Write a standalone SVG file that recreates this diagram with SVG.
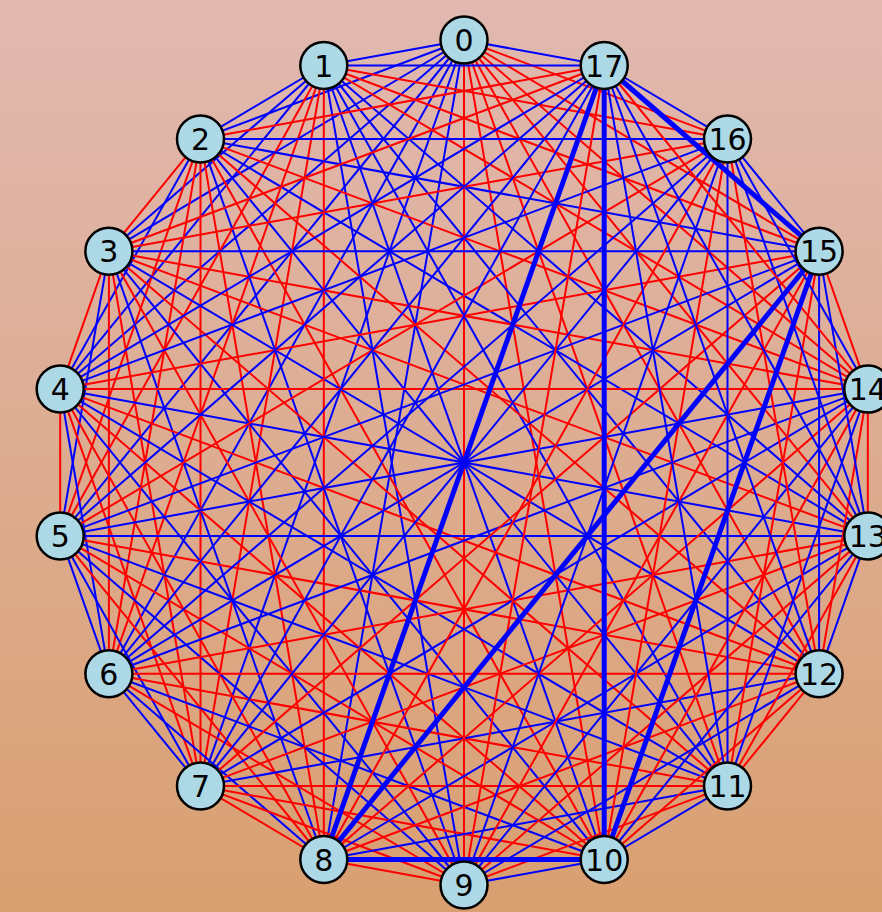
<svg xmlns="http://www.w3.org/2000/svg" width="882" height="912" viewBox="0 0 882 912">
<defs>
<linearGradient id="bg" x1="0" y1="0" x2="0" y2="1">
<stop offset="0" stop-color="#e1b9b1"/>
<stop offset="1" stop-color="#d99f70"/>
</linearGradient>
<style>
.b{stroke:#0000ff;stroke-width:2}
.r{stroke:#ff0000;stroke-width:2}
.t{stroke:#0000ff;stroke-width:5}
.n circle{fill:#add8e6;stroke:#000;stroke-width:2.5}
.n text{font-family:"DejaVu Sans",sans-serif;font-size:30px;text-anchor:middle;fill:#000}
</style>
</defs>
<rect width="882" height="912" fill="url(#bg)"/>
<g id="edges">
<line class="b" x1="464" y1="40" x2="323.8" y2="65.5"/>
<line class="b" x1="464" y1="40" x2="200.5" y2="138.9"/>
<line class="b" x1="464" y1="40" x2="108.9" y2="251.3"/>
<line class="b" x1="464" y1="40" x2="60.2" y2="389.1"/>
<line class="b" x1="464" y1="40" x2="60.2" y2="535.9"/>
<line class="b" x1="464" y1="40" x2="108.9" y2="673.8"/>
<line class="b" x1="464" y1="40" x2="200.5" y2="786.1"/>
<line class="b" x1="464" y1="40" x2="323.8" y2="859.5"/>
<line class="r" x1="464" y1="40" x2="464" y2="885"/>
<line class="r" x1="464" y1="40" x2="604.2" y2="859.5"/>
<line class="r" x1="464" y1="40" x2="727.5" y2="786.1"/>
<line class="r" x1="464" y1="40" x2="819.1" y2="673.8"/>
<line class="r" x1="464" y1="40" x2="867.8" y2="535.9"/>
<line class="r" x1="464" y1="40" x2="867.8" y2="389.1"/>
<line class="r" x1="464" y1="40" x2="819.1" y2="251.3"/>
<line class="r" x1="464" y1="40" x2="727.5" y2="138.9"/>
<line class="b" x1="464" y1="40" x2="604.2" y2="65.5"/>

<line class="b" x1="323.8" y1="65.5" x2="200.5" y2="138.9"/>
<line class="b" x1="323.8" y1="65.5" x2="108.9" y2="251.3"/>
<line class="b" x1="323.8" y1="65.5" x2="60.2" y2="389.1"/>
<line class="r" x1="323.8" y1="65.5" x2="60.2" y2="535.9"/>
<line class="r" x1="323.8" y1="65.5" x2="108.9" y2="673.8"/>
<line class="r" x1="323.8" y1="65.5" x2="200.5" y2="786.1"/>
<line class="r" x1="323.8" y1="65.5" x2="323.8" y2="859.5"/>
<line class="b" x1="323.8" y1="65.5" x2="464" y2="885"/>
<line class="b" x1="323.8" y1="65.5" x2="604.2" y2="859.5"/>
<line class="b" x1="323.8" y1="65.5" x2="727.5" y2="786.1"/>
<line class="b" x1="323.8" y1="65.5" x2="819.1" y2="673.8"/>
<line class="b" x1="323.8" y1="65.5" x2="867.8" y2="535.9"/>
<line class="r" x1="323.8" y1="65.5" x2="867.8" y2="389.1"/>
<line class="r" x1="323.8" y1="65.5" x2="819.1" y2="251.3"/>
<line class="r" x1="323.8" y1="65.5" x2="727.5" y2="138.9"/>
<line class="b" x1="323.8" y1="65.5" x2="604.2" y2="65.5"/>

<line class="r" x1="200.5" y1="138.9" x2="108.9" y2="251.3"/>
<line class="b" x1="200.5" y1="138.9" x2="60.2" y2="389.1"/>
<line class="r" x1="200.5" y1="138.9" x2="60.2" y2="535.9"/>
<line class="r" x1="200.5" y1="138.9" x2="108.9" y2="673.8"/>
<line class="r" x1="200.5" y1="138.9" x2="200.5" y2="786.1"/>
<line class="r" x1="200.5" y1="138.9" x2="323.8" y2="859.5"/>
<line class="b" x1="200.5" y1="138.9" x2="464" y2="885"/>
<line class="r" x1="200.5" y1="138.9" x2="604.2" y2="859.5"/>
<line class="b" x1="200.5" y1="138.9" x2="727.5" y2="786.1"/>
<line class="r" x1="200.5" y1="138.9" x2="819.1" y2="673.8"/>
<line class="b" x1="200.5" y1="138.9" x2="867.8" y2="535.9"/>
<line class="r" x1="200.5" y1="138.9" x2="867.8" y2="389.1"/>
<line class="b" x1="200.5" y1="138.9" x2="819.1" y2="251.3"/>
<line class="b" x1="200.5" y1="138.9" x2="727.5" y2="138.9"/>
<line class="r" x1="200.5" y1="138.9" x2="604.2" y2="65.5"/>

<line class="r" x1="108.9" y1="251.3" x2="60.2" y2="389.1"/>
<line class="b" x1="108.9" y1="251.3" x2="60.2" y2="535.9"/>
<line class="r" x1="108.9" y1="251.3" x2="108.9" y2="673.8"/>
<line class="r" x1="108.9" y1="251.3" x2="200.5" y2="786.1"/>
<line class="b" x1="108.9" y1="251.3" x2="323.8" y2="859.5"/>
<line class="r" x1="108.9" y1="251.3" x2="464" y2="885"/>
<line class="b" x1="108.9" y1="251.3" x2="604.2" y2="859.5"/>
<line class="r" x1="108.9" y1="251.3" x2="727.5" y2="786.1"/>
<line class="b" x1="108.9" y1="251.3" x2="819.1" y2="673.8"/>
<line class="r" x1="108.9" y1="251.3" x2="867.8" y2="535.9"/>
<line class="r" x1="108.9" y1="251.3" x2="867.8" y2="389.1"/>
<line class="b" x1="108.9" y1="251.3" x2="819.1" y2="251.3"/>
<line class="r" x1="108.9" y1="251.3" x2="727.5" y2="138.9"/>
<line class="r" x1="108.9" y1="251.3" x2="604.2" y2="65.5"/>

<line class="r" x1="60.2" y1="389.1" x2="60.2" y2="535.9"/>
<line class="b" x1="60.2" y1="389.1" x2="108.9" y2="673.8"/>
<line class="r" x1="60.2" y1="389.1" x2="200.5" y2="786.1"/>
<line class="r" x1="60.2" y1="389.1" x2="323.8" y2="859.5"/>
<line class="b" x1="60.2" y1="389.1" x2="464" y2="885"/>
<line class="r" x1="60.2" y1="389.1" x2="604.2" y2="859.5"/>
<line class="b" x1="60.2" y1="389.1" x2="727.5" y2="786.1"/>
<line class="r" x1="60.2" y1="389.1" x2="819.1" y2="673.8"/>
<line class="b" x1="60.2" y1="389.1" x2="867.8" y2="535.9"/>
<line class="r" x1="60.2" y1="389.1" x2="867.8" y2="389.1"/>
<line class="r" x1="60.2" y1="389.1" x2="819.1" y2="251.3"/>
<line class="b" x1="60.2" y1="389.1" x2="727.5" y2="138.9"/>
<line class="b" x1="60.2" y1="389.1" x2="604.2" y2="65.5"/>

<line class="b" x1="60.2" y1="535.9" x2="108.9" y2="673.8"/>
<line class="b" x1="60.2" y1="535.9" x2="200.5" y2="786.1"/>
<line class="r" x1="60.2" y1="535.9" x2="323.8" y2="859.5"/>
<line class="b" x1="60.2" y1="535.9" x2="464" y2="885"/>
<line class="r" x1="60.2" y1="535.9" x2="604.2" y2="859.5"/>
<line class="b" x1="60.2" y1="535.9" x2="727.5" y2="786.1"/>
<line class="r" x1="60.2" y1="535.9" x2="819.1" y2="673.8"/>
<line class="b" x1="60.2" y1="535.9" x2="867.8" y2="535.9"/>
<line class="b" x1="60.2" y1="535.9" x2="867.8" y2="389.1"/>
<line class="b" x1="60.2" y1="535.9" x2="819.1" y2="251.3"/>
<line class="r" x1="60.2" y1="535.9" x2="727.5" y2="138.9"/>
<line class="b" x1="60.2" y1="535.9" x2="604.2" y2="65.5"/>

<line class="b" x1="108.9" y1="673.8" x2="200.5" y2="786.1"/>
<line class="b" x1="108.9" y1="673.8" x2="323.8" y2="859.5"/>
<line class="r" x1="108.9" y1="673.8" x2="464" y2="885"/>
<line class="b" x1="108.9" y1="673.8" x2="604.2" y2="859.5"/>
<line class="r" x1="108.9" y1="673.8" x2="727.5" y2="786.1"/>
<line class="r" x1="108.9" y1="673.8" x2="819.1" y2="673.8"/>
<line class="r" x1="108.9" y1="673.8" x2="867.8" y2="535.9"/>
<line class="b" x1="108.9" y1="673.8" x2="867.8" y2="389.1"/>
<line class="b" x1="108.9" y1="673.8" x2="819.1" y2="251.3"/>
<line class="b" x1="108.9" y1="673.8" x2="727.5" y2="138.9"/>
<line class="b" x1="108.9" y1="673.8" x2="604.2" y2="65.5"/>

<line class="r" x1="200.5" y1="786.1" x2="323.8" y2="859.5"/>
<line class="r" x1="200.5" y1="786.1" x2="464" y2="885"/>
<line class="r" x1="200.5" y1="786.1" x2="604.2" y2="859.5"/>
<line class="r" x1="200.5" y1="786.1" x2="727.5" y2="786.1"/>
<line class="b" x1="200.5" y1="786.1" x2="819.1" y2="673.8"/>
<line class="r" x1="200.5" y1="786.1" x2="867.8" y2="535.9"/>
<line class="b" x1="200.5" y1="786.1" x2="867.8" y2="389.1"/>
<line class="r" x1="200.5" y1="786.1" x2="819.1" y2="251.3"/>
<line class="b" x1="200.5" y1="786.1" x2="727.5" y2="138.9"/>
<line class="b" x1="200.5" y1="786.1" x2="604.2" y2="65.5"/>

<line class="r" x1="323.8" y1="859.5" x2="464" y2="885"/>
<line class="b" x1="323.8" y1="859.5" x2="727.5" y2="786.1"/>
<line class="r" x1="323.8" y1="859.5" x2="819.1" y2="673.8"/>
<line class="b" x1="323.8" y1="859.5" x2="867.8" y2="535.9"/>
<line class="r" x1="323.8" y1="859.5" x2="867.8" y2="389.1"/>
<line class="r" x1="323.8" y1="859.5" x2="727.5" y2="138.9"/>

<line class="b" x1="464" y1="885" x2="604.2" y2="859.5"/>
<line class="r" x1="464" y1="885" x2="727.5" y2="786.1"/>
<line class="b" x1="464" y1="885" x2="819.1" y2="673.8"/>
<line class="r" x1="464" y1="885" x2="867.8" y2="535.9"/>
<line class="b" x1="464" y1="885" x2="867.8" y2="389.1"/>
<line class="r" x1="464" y1="885" x2="819.1" y2="251.3"/>
<line class="b" x1="464" y1="885" x2="727.5" y2="138.9"/>
<line class="r" x1="464" y1="885" x2="604.2" y2="65.5"/>

<line class="b" x1="604.2" y1="859.5" x2="727.5" y2="786.1"/>
<line class="r" x1="604.2" y1="859.5" x2="819.1" y2="673.8"/>
<line class="b" x1="604.2" y1="859.5" x2="867.8" y2="535.9"/>
<line class="r" x1="604.2" y1="859.5" x2="867.8" y2="389.1"/>
<line class="r" x1="604.2" y1="859.5" x2="727.5" y2="138.9"/>

<line class="r" x1="727.5" y1="786.1" x2="819.1" y2="673.8"/>
<line class="r" x1="727.5" y1="786.1" x2="867.8" y2="535.9"/>
<line class="b" x1="727.5" y1="786.1" x2="867.8" y2="389.1"/>
<line class="r" x1="727.5" y1="786.1" x2="819.1" y2="251.3"/>
<line class="b" x1="727.5" y1="786.1" x2="727.5" y2="138.9"/>
<line class="b" x1="727.5" y1="786.1" x2="604.2" y2="65.5"/>

<line class="b" x1="819.1" y1="673.8" x2="867.8" y2="535.9"/>
<line class="r" x1="819.1" y1="673.8" x2="867.8" y2="389.1"/>
<line class="b" x1="819.1" y1="673.8" x2="819.1" y2="251.3"/>
<line class="r" x1="819.1" y1="673.8" x2="727.5" y2="138.9"/>
<line class="b" x1="819.1" y1="673.8" x2="604.2" y2="65.5"/>

<line class="r" x1="867.8" y1="535.9" x2="867.8" y2="389.1"/>
<line class="b" x1="867.8" y1="535.9" x2="819.1" y2="251.3"/>
<line class="b" x1="867.8" y1="535.9" x2="727.5" y2="138.9"/>
<line class="b" x1="867.8" y1="535.9" x2="604.2" y2="65.5"/>

<line class="r" x1="867.8" y1="389.1" x2="819.1" y2="251.3"/>
<line class="b" x1="867.8" y1="389.1" x2="727.5" y2="138.9"/>
<line class="r" x1="867.8" y1="389.1" x2="604.2" y2="65.5"/>

<line class="b" x1="819.1" y1="251.3" x2="727.5" y2="138.9"/>
<line class="b" x1="727.5" y1="138.9" x2="604.2" y2="65.5"/>

<line class="t" x1="323.8" y1="859.5" x2="604.2" y2="859.5"/>
<line class="t" x1="323.8" y1="859.5" x2="819.1" y2="251.3"/>
<line class="t" x1="323.8" y1="859.5" x2="604.2" y2="65.5"/>
<line class="t" x1="604.2" y1="859.5" x2="819.1" y2="251.3"/>
<line class="t" x1="604.2" y1="859.5" x2="604.2" y2="65.5"/>
<line class="t" x1="819.1" y1="251.3" x2="604.2" y2="65.5"/>
</g>
<g id="n0" class="n"><circle cx="464" cy="40" r="23.5"/><text x="464" y="51">0</text></g>
<g id="n1" class="n"><circle cx="323.8" cy="65.5" r="23.5"/><text x="323.8" y="76.5">1</text></g>
<g id="n2" class="n"><circle cx="200.5" cy="138.9" r="23.5"/><text x="200.5" y="149.9">2</text></g>
<g id="n3" class="n"><circle cx="108.9" cy="251.3" r="23.5"/><text x="108.9" y="262.3">3</text></g>
<g id="n4" class="n"><circle cx="60.2" cy="389.1" r="23.5"/><text x="60.2" y="400.1">4</text></g>
<g id="n5" class="n"><circle cx="60.2" cy="535.9" r="23.5"/><text x="60.2" y="546.9">5</text></g>
<g id="n6" class="n"><circle cx="108.9" cy="673.8" r="23.5"/><text x="108.9" y="684.8">6</text></g>
<g id="n7" class="n"><circle cx="200.5" cy="786.1" r="23.5"/><text x="200.5" y="797.1">7</text></g>
<g id="n8" class="n"><circle cx="323.8" cy="859.5" r="23.5"/><text x="323.8" y="870.5">8</text></g>
<g id="n9" class="n"><circle cx="464" cy="885" r="23.5"/><text x="464" y="896">9</text></g>
<g id="n10" class="n"><circle cx="604.2" cy="859.5" r="23.5"/><text x="604.2" y="870.5">10</text></g>
<g id="n11" class="n"><circle cx="727.5" cy="786.1" r="23.5"/><text x="727.5" y="797.1">11</text></g>
<g id="n12" class="n"><circle cx="819.1" cy="673.8" r="23.5"/><text x="819.1" y="684.8">12</text></g>
<g id="n13" class="n"><circle cx="867.8" cy="535.9" r="23.5"/><text x="867.8" y="546.9">13</text></g>
<g id="n14" class="n"><circle cx="867.8" cy="389.1" r="23.5"/><text x="867.8" y="400.1">14</text></g>
<g id="n15" class="n"><circle cx="819.1" cy="251.3" r="23.5"/><text x="819.1" y="262.3">15</text></g>
<g id="n16" class="n"><circle cx="727.5" cy="138.9" r="23.5"/><text x="727.5" y="149.9">16</text></g>
<g id="n17" class="n"><circle cx="604.2" cy="65.5" r="23.5"/><text x="604.2" y="76.5">17</text></g>
</svg>
